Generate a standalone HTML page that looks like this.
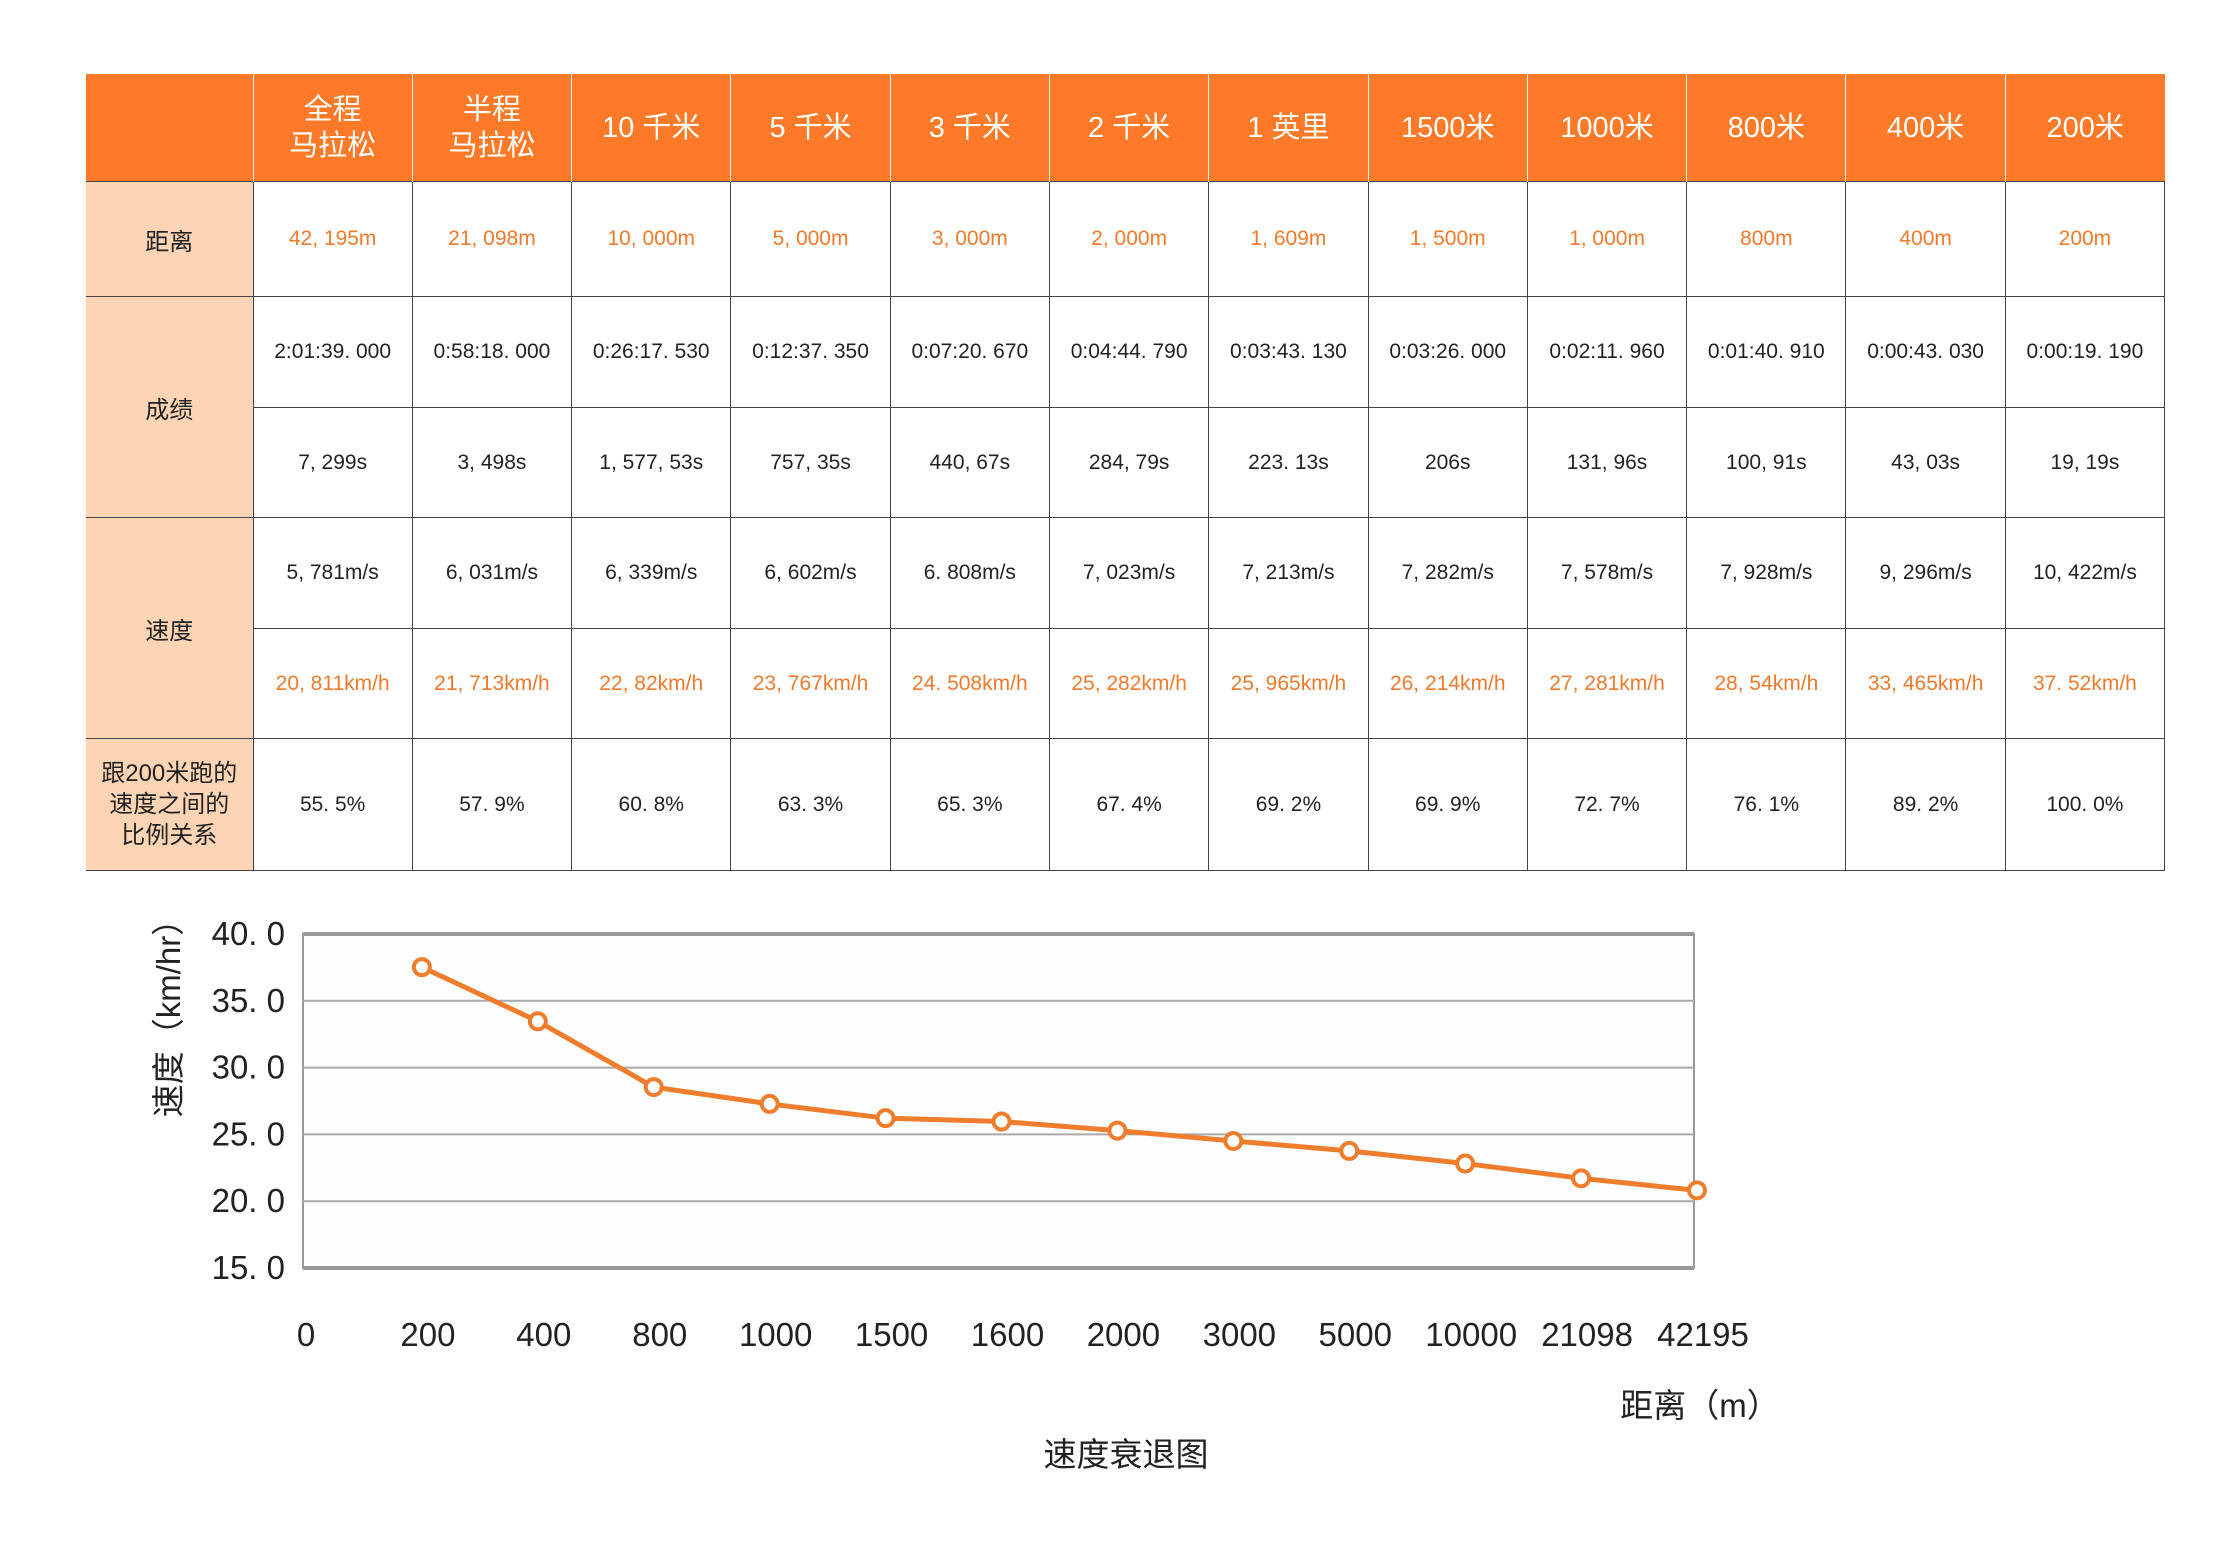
<!DOCTYPE html>
<html><head><meta charset="utf-8">
<style>
body{margin:0;width:2228px;height:1550px;background:#fff;position:relative;overflow:hidden;font-family:"Liberation Sans Narrow","Liberation Sans","Noto Sans CJK SC",sans-serif;}
table{position:absolute;left:86px;top:74px;border-collapse:collapse;table-layout:fixed;}
td{text-align:center;vertical-align:middle;padding:0;font-size:21px;color:#222;border:1.5px solid #444;}
tr.head td{background:#FF7A28;color:#fff;font-size:29px;line-height:36px;border:none;border-left:1.5px solid #fff;height:107px;font-family:"Liberation Sans","Noto Sans CJK SC",sans-serif;}
tr.head td:first-child{border-left:none}
td.lab{background:#FDD5B5;font-size:24px;color:#222;font-family:"Liberation Sans","Noto Sans CJK SC",sans-serif;border-left:none}
.or{color:#EE7A2C}
svg{position:absolute;left:0;top:0}
</style></head><body>
<table>
<colgroup><col style="width:167px"><col span="12" style="width:159.3px"></colgroup>
<tr class="head"><td></td><td>全程<br>马拉松</td><td>半程<br>马拉松</td><td>10 千米</td><td>5 千米</td><td>3 千米</td><td>2 千米</td><td>1 英里</td><td>1500米</td><td>1000米</td><td>800米</td><td>400米</td><td>200米</td></tr>
<tr style="height:115px"><td class="lab">距离</td><td class="or">42, 195m</td><td class="or">21, 098m</td><td class="or">10, 000m</td><td class="or">5, 000m</td><td class="or">3, 000m</td><td class="or">2, 000m</td><td class="or">1, 609m</td><td class="or">1, 500m</td><td class="or">1, 000m</td><td class="or">800m</td><td class="or">400m</td><td class="or">200m</td></tr>
<tr style="height:111px"><td class="lab" rowspan="2">成绩</td><td>2:01:39. 000</td><td>0:58:18. 000</td><td>0:26:17. 530</td><td>0:12:37. 350</td><td>0:07:20. 670</td><td>0:04:44. 790</td><td>0:03:43. 130</td><td>0:03:26. 000</td><td>0:02:11. 960</td><td>0:01:40. 910</td><td>0:00:43. 030</td><td>0:00:19. 190</td></tr>
<tr style="height:110px"><td>7, 299s</td><td>3, 498s</td><td>1, 577, 53s</td><td>757, 35s</td><td>440, 67s</td><td>284, 79s</td><td>223. 13s</td><td>206s</td><td>131, 96s</td><td>100, 91s</td><td>43, 03s</td><td>19, 19s</td></tr>
<tr style="height:111px"><td class="lab" rowspan="2">速度</td><td>5, 781m/s</td><td>6, 031m/s</td><td>6, 339m/s</td><td>6, 602m/s</td><td>6. 808m/s</td><td>7, 023m/s</td><td>7, 213m/s</td><td>7, 282m/s</td><td>7, 578m/s</td><td>7, 928m/s</td><td>9, 296m/s</td><td>10, 422m/s</td></tr>
<tr style="height:110px"><td class="or">20, 811km/h</td><td class="or">21, 713km/h</td><td class="or">22, 82km/h</td><td class="or">23, 767km/h</td><td class="or">24. 508km/h</td><td class="or">25, 282km/h</td><td class="or">25, 965km/h</td><td class="or">26, 214km/h</td><td class="or">27, 281km/h</td><td class="or">28, 54km/h</td><td class="or">33, 465km/h</td><td class="or">37. 52km/h</td></tr>
<tr style="height:132px"><td class="lab" style="line-height:31px">跟200米跑的<br>速度之间的<br>比例关系</td><td>55. 5%</td><td>57. 9%</td><td>60. 8%</td><td>63. 3%</td><td>65. 3%</td><td>67. 4%</td><td>69. 2%</td><td>69. 9%</td><td>72. 7%</td><td>76. 1%</td><td>89. 2%</td><td>100. 0%</td></tr>
</table>
<svg id="chart" width="2228" height="1550"></svg>
<script>
const categories=["0","200","400","800","1000","1500","1600","2000","3000","5000","10000","21098","42195"];
const speeds=[37.52,33.465,28.54,27.281,26.214,25.965,25.282,24.508,23.767,22.82,21.713,20.811];
const yTicks=[15,20,25,30,35,40];
const yTickLabels=["15. 0","20. 0","25. 0","30. 0","35. 0","40. 0"];
const svg=document.getElementById('chart');const NS='http://www.w3.org/2000/svg';
const L=303,R=1694,T=934,B=1268,yMin=15,yMax=40;
const step=(R-L)/12;
function xs(i){return L+3+i*step;}
function ys(v){return B-(v-yMin)/(yMax-yMin)*(B-T);}
function mk(tag,attrs,parent){const e=document.createElementNS(NS,tag);for(const k in attrs)e.setAttribute(k,attrs[k]);(parent||svg).appendChild(e);return e;}
const bg=mk('rect',{x:L,y:T,width:R-L,height:B-T,fill:'#fdfdfd',stroke:'#999','stroke-width':2});


yTicks.forEach((v,i)=>{
 if(v>yMin&&v<yMax){const g=mk('line',{x1:L,x2:R,y1:ys(v),y2:ys(v),stroke:'#aaa','stroke-width':2});
 
 }
 const t=mk('text',{x:285,y:ys(v)+11,'text-anchor':'end','font-size':33,fill:'#222','font-family':'Liberation Sans Narrow, Liberation Sans, sans-serif'});
 t.textContent=yTickLabels[i];
 
 
});
mk('line',{x1:L,x2:R,y1:T,y2:T,stroke:'#999','stroke-width':4});
mk('line',{x1:L,x2:R,y1:B,y2:B,stroke:'#999','stroke-width':4});
categories.forEach((c,i)=>{
 const t=mk('text',{x:xs(i)+(i===0?0:6),y:1346,'text-anchor':'middle','font-size':33,fill:'#222','font-family':'Liberation Sans Narrow, Liberation Sans, sans-serif'});
 t.textContent=c;
 
 
});
const pts=speeds.map((v,i)=>[xs(i+1),ys(v)]);
const line=mk('polyline',{points:pts.map(p=>p.join(',')).join(' '),fill:'none',stroke:'#EE7D2E','stroke-width':5});


pts.forEach(p=>{const c=mk('circle',{cx:p[0],cy:p[1],r:8,fill:'#fff',stroke:'#EE7D2E','stroke-width':4});
 
 });
const yt=mk('text',{x:0,y:0,transform:'translate(180,1010) rotate(-90)','text-anchor':'middle','font-size':33,fill:'#222','font-family':'Liberation Sans, Noto Sans CJK SC, sans-serif'});
yt.textContent='速度（km/hr）';


const xt=mk('text',{x:1700,y:1417,'text-anchor':'middle','font-size':33,fill:'#222','font-family':'Liberation Sans, Noto Sans CJK SC, sans-serif'});
xt.textContent='距离（m）';


const ct=mk('text',{x:1126,y:1466,'text-anchor':'middle','font-size':33,fill:'#222','font-family':'Liberation Sans, Noto Sans CJK SC, sans-serif'});
ct.textContent='速度衰退图';


</script>
</body></html>
